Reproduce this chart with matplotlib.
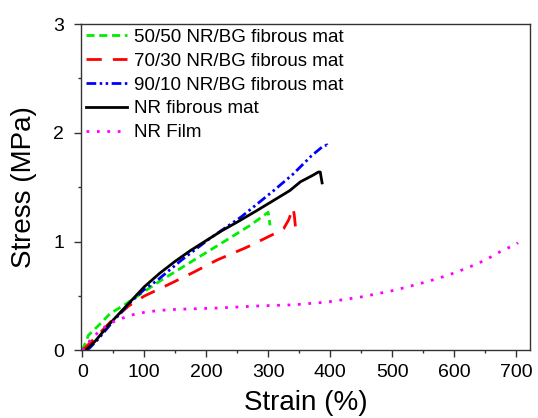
import matplotlib
matplotlib.use("Agg")
import matplotlib.pyplot as plt
from matplotlib.ticker import MultipleLocator

plt.rcParams['font.family'] = ['Liberation Sans', 'DejaVu Sans']
plt.rcParams['lines.scale_dashes'] = False

# tensile curves, strain (%) vs stress (MPa)
bg50_strain = [0, 10, 29, 45, 67, 102, 126, 180, 223, 271, 300, 303]
bg50_stress = [0, 0.14, 0.245, 0.34, 0.415, 0.55, 0.64, 0.83, 0.98, 1.15, 1.27, 1.15]

bg70_strain = [0, 25, 45, 75, 100, 137, 180, 217, 266, 309, 325, 333, 340, 342, 345]
bg70_stress = [0, 0.14, 0.26, 0.41, 0.50, 0.60, 0.72, 0.83, 0.95, 1.07, 1.12, 1.20, 1.31, 1.25, 1.08]

bg90_strain = [8, 25, 50, 77, 100, 120, 160, 206, 257, 309, 340, 370, 387, 395, 397]
bg90_stress = [0, 0.1, 0.27, 0.44, 0.56, 0.64, 0.83, 1.03, 1.23, 1.47, 1.62, 1.79, 1.87, 1.89, 1.86]

mat_strain = [5, 20, 45, 77, 100, 125, 150, 175, 200, 225, 250, 280, 309, 335, 352, 372, 381, 384, 387]
mat_stress = [0, 0.08, 0.25, 0.445, 0.585, 0.71, 0.82, 0.92, 1.01, 1.10, 1.18, 1.28, 1.38, 1.47, 1.55, 1.61, 1.64, 1.64, 1.54]

film_strain = [0, 15, 30, 45, 61, 88, 112, 139, 163, 217, 287, 341, 395, 448, 497,
               522, 548, 573, 599, 624, 650, 675, 701, 703]
film_stress = [0, 0.11, 0.19, 0.25, 0.29, 0.34, 0.36, 0.375, 0.38, 0.39, 0.41, 0.42, 0.445, 0.49, 0.545,
               0.58, 0.62, 0.66, 0.71, 0.765, 0.83, 0.91, 0.98, 0.99]

fig = plt.figure(figsize=(5.38, 4.18), dpi=100)
ax = fig.add_axes([0.1506, 0.1615, 0.834, 0.7810])

lw = 2.0
ax.plot(bg50_strain, bg50_stress, color='#00ee00', lw=lw, dashes=(5.8, 3.4),
        label='50/50 NR/BG fibrous mat')
ax.plot(bg70_strain, bg70_stress, color='#ff0000', lw=lw, dashes=(11, 8),
        label='70/30 NR/BG fibrous mat')
ax.plot(bg90_strain, bg90_stress, color='#0000ff', lw=lw, dashes=(7, 2.5, 1.8, 2.5, 1.8, 2.5),
        label='90/10 NR/BG fibrous mat')
ax.plot(mat_strain, mat_stress, color='black', lw=lw, label='NR fibrous mat')
ax.plot(film_strain, film_stress, color='#ff00ff', lw=lw, dashes=(2, 5.5),
        label='NR Film')

ax.set_xlim(-2, 722)
ax.set_ylim(0, 3)
ax.xaxis.set_major_locator(MultipleLocator(100))
ax.xaxis.set_minor_locator(MultipleLocator(50))
ax.yaxis.set_major_locator(MultipleLocator(1))
ax.yaxis.set_minor_locator(MultipleLocator(0.5))
ax.tick_params(which='major', direction='out', length=5, width=1, labelsize=14, colors='#333333',
               labelcolor='black')
ax.tick_params(which='minor', direction='out', length=2.5, width=1, colors='#333333')
ax.tick_params(axis='x', which='major', pad=5)
ax.tick_params(axis='y', which='major', pad=7)
for sp in ax.spines.values():
    sp.set_linewidth(1)
    sp.set_color('#333333')

ax.set_xlabel('Strain (%)', fontsize=20, labelpad=6)
ax.set_ylabel('Stress (MPa)', fontsize=20, labelpad=12)

ax.legend(loc='upper left', frameon=False, fontsize=13.5, handlelength=2.2,
          handletextpad=0.35, labelspacing=0.36, borderaxespad=0.05, borderpad=0.2)

fig.savefig('out.png', dpi=100)
